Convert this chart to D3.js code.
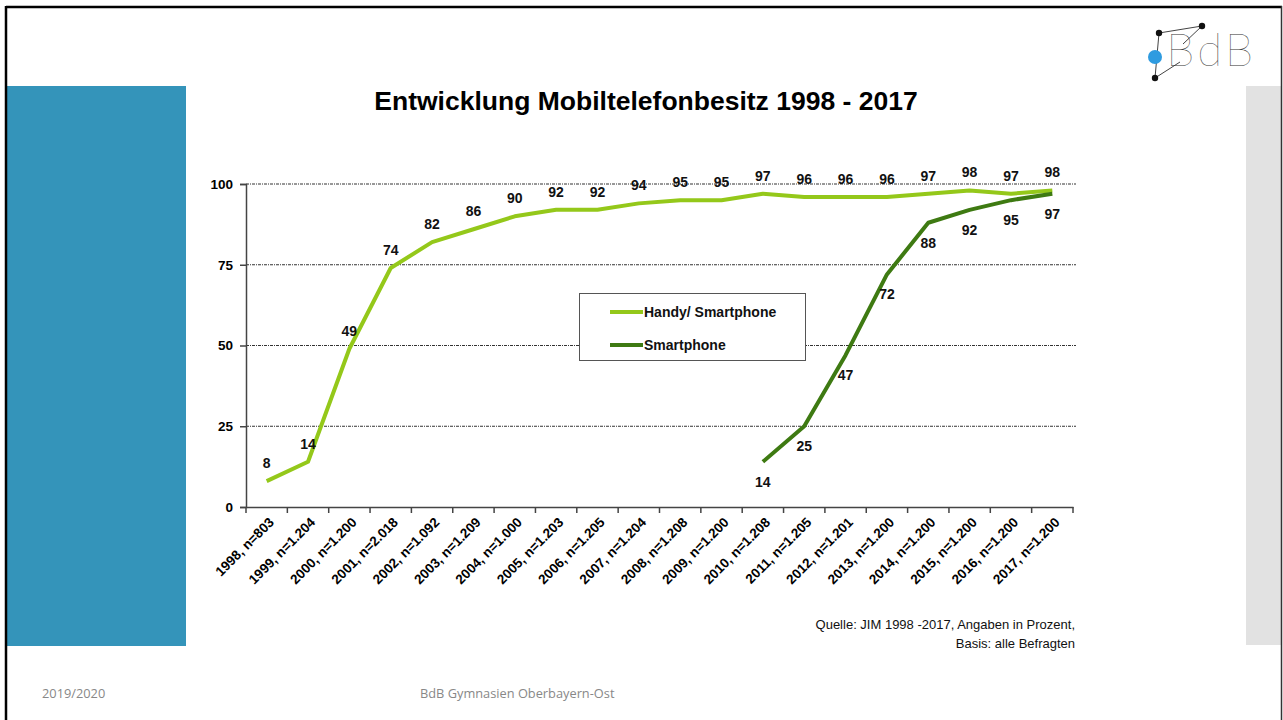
<!DOCTYPE html>
<html>
<head>
<meta charset="utf-8">
<script src="https://cdn.jsdelivr.net/npm/d3@7"></script>
<style>
  html, body { margin: 0; padding: 0; background: #fff; }
  svg { display: block; }
</style>
</head>
<body>
<svg id="chart" width="1283" height="720"></svg>
<script>
const categories = ["1998, n=803","1999, n=1.204","2000, n=1.200","2001, n=2.018","2002, n=1.092","2003, n=1.209","2004, n=1.000","2005, n=1.203","2006, n=1.205","2007, n=1.204","2008, n=1.208","2009, n=1.200","2010, n=1.208","2011, n=1.205","2012, n=1.201","2013, n=1.200","2014, n=1.200","2015, n=1.200","2016, n=1.200","2017, n=1.200"];
const handyValues = [8,14,49,74,82,86,90,92,92,94,95,95,97,96,96,96,97,98,97,98];
const smartCategories = ["2010, n=1.208","2011, n=1.205","2012, n=1.201","2013, n=1.200","2014, n=1.200","2015, n=1.200","2016, n=1.200","2017, n=1.200"];
const smartValues = [14,25,47,72,88,92,95,97];
const yTicks = [0,25,50,75,100];
const seriesNames = ["Handy/ Smartphone","Smartphone"];
const titleText = "Entwicklung Mobiltelefonbesitz 1998 - 2017";
const sourceLines = ["Quelle: JIM 1998 -2017, Angaben in Prozent,","Basis: alle Befragten"];
const footerLeft = "2019/2020";
const footerCenter = "BdB Gymnasien Oberbayern-Ost";

const svg = d3.select("#chart");
const W = 1283, H = 720;
const colHandy = "#94C81A", colSmart = "#3E7A12";

// slide frame
svg.append("rect").attr("x",0).attr("y",0).attr("width",W).attr("height",H).attr("fill","#fff");
svg.append("rect").attr("x",7).attr("y",86).attr("width",179).attr("height",560).attr("fill","#3494BA");
svg.append("rect").attr("x",1246).attr("y",86).attr("width",35).attr("height",559).attr("fill","#E2E2E2");
svg.append("line").attr("x1",6).attr("x2",6).attr("y1",6).attr("y2",H).attr("stroke","#000").attr("stroke-width",2.5);
svg.append("line").attr("x1",6).attr("x2",1282).attr("y1",7).attr("y2",7).attr("stroke","#000").attr("stroke-width",2.5);
svg.append("line").attr("x1",1281.5).attr("x2",1281.5).attr("y1",6).attr("y2",H).attr("stroke","#333").attr("stroke-width",1.5);

// logo
const logo = svg.append("g");
const pts = [[1159,33],[1202,26],[1155,78]];
logo.append("path").attr("d","M1159,33 L1202,26 L1183,44 M1159,33 L1155,78 L1180,62").attr("fill","none").attr("stroke","#444").attr("stroke-width",1);
logo.append("circle").attr("cx",1155).attr("cy",57).attr("r",7).attr("fill","#2E9BE0");
pts.forEach(p => logo.append("circle").attr("cx",p[0]).attr("cy",p[1]).attr("r",3.2).attr("fill","#111"));
logo.append("text").attr("x",1166).attr("y",66).attr("font-family","Lato, 'Noto Sans', sans-serif").attr("font-weight",100)
  .attr("font-size",46).attr("fill","#333").attr("letter-spacing",3).text("BdB");

// title
svg.append("text").attr("x",646).attr("y",110).attr("text-anchor","middle")
  .attr("font-family","'Liberation Sans', Arial, sans-serif").attr("font-weight","bold").attr("font-size",26.5)
  .attr("fill","#000").text(titleText);

// scales
const x = d3.scaleBand().domain(categories).range([246,1073]);
const y = d3.scaleLinear().domain([0,100]).range([507,184]);
const cx = c => x(c) + x.bandwidth()/2;

const font = "'Liberation Sans', Arial, sans-serif";

// grid lines
svg.append("g").selectAll("line").data(yTicks.filter(d => d>0)).join("line")
  .attr("x1",246).attr("x2",1076).attr("y1",d=>y(d)).attr("y2",d=>y(d))
  .attr("stroke","#333").attr("stroke-width",1).attr("stroke-dasharray","3,1,1,1");

// y axis
const yAxis = svg.append("g").attr("transform","translate(246,0)")
  .call(d3.axisLeft(y).tickValues(yTicks).tickSize(6).tickPadding(7));
yAxis.select(".domain").attr("stroke","#444").attr("stroke-width",1.5);
yAxis.selectAll(".tick line").attr("stroke","#444").attr("stroke-width",1.5);
yAxis.selectAll(".tick text").attr("font-family",font).attr("font-weight","bold").attr("font-size",13.5).attr("fill","#000");

// x axis
const xAxis = svg.append("g").attr("transform","translate(0,507)")
  .call(d3.axisBottom(x).tickSize(0).tickFormat(d=>d));
xAxis.select(".domain").attr("stroke","#444").attr("stroke-width",1.5);
xAxis.selectAll(".tick text").attr("font-family",font).attr("font-weight","bold").attr("font-size",13.5).attr("fill","#000")
  .attr("text-anchor","end").attr("dx",0).attr("dy",0)
  .attr("transform","translate(6,14) rotate(-45)");
// boundary ticks
const bounds = categories.map(c => x(c)).concat([x(categories[categories.length-1]) + x.bandwidth()]);
svg.append("g").selectAll("line").data(bounds).join("line")
  .attr("x1",d=>d).attr("x2",d=>d).attr("y1",507).attr("y2",513)
  .attr("stroke","#444").attr("stroke-width",1.5);

// lines
const line = d3.line().x(d=>cx(d.c)).y(d=>y(d.v));
const handyData = categories.map((c,i)=>({c, v: handyValues[i]}));
const smartData = smartCategories.map((c,i)=>({c, v: smartValues[i]}));
svg.append("path").datum(handyData).attr("d",line).attr("fill","none").attr("stroke",colHandy)
  .attr("stroke-width",4).attr("stroke-linejoin","round");
svg.append("path").datum(smartData).attr("d",line).attr("fill","none").attr("stroke",colSmart)
  .attr("stroke-width",4).attr("stroke-linejoin","round");

// data labels
svg.append("g").selectAll("text").data(handyData).join("text")
  .attr("x",d=>cx(d.c)).attr("y",d=>y(d.v)-13).attr("text-anchor","middle")
  .attr("font-family",font).attr("font-weight","bold").attr("font-size",14).attr("fill","#111")
  .text(d=>d.v);
svg.append("g").selectAll("text").data(smartData).join("text")
  .attr("x",d=>cx(d.c)).attr("y",d=>y(d.v)+25).attr("text-anchor","middle")
  .attr("font-family",font).attr("font-weight","bold").attr("font-size",14).attr("fill","#111")
  .text(d=>d.v);

// legend
const lg = svg.append("g");
lg.append("rect").attr("x",579.5).attr("y",293.5).attr("width",226).attr("height",67)
  .attr("fill","#fff").attr("stroke","#555").attr("stroke-width",1);
[colHandy,colSmart].forEach((col,i)=>{
  const yy = 312 + i*33;
  lg.append("line").attr("x1",610).attr("x2",643).attr("y1",yy).attr("y2",yy).attr("stroke",col).attr("stroke-width",4);
  lg.append("text").attr("x",644).attr("y",yy+5).attr("font-family",font).attr("font-weight","bold")
    .attr("font-size",14).attr("fill","#111").text(seriesNames[i]);
});

// source
svg.append("g").selectAll("text").data(sourceLines).join("text")
  .attr("x",1075).attr("y",(d,i)=>629+i*19).attr("text-anchor","end")
  .attr("font-family",font).attr("font-size",13).attr("fill","#111").text(d=>d);

// footer
svg.append("text").attr("x",42).attr("y",698).attr("font-family","'Open Sans', sans-serif").attr("font-size",12.8)
  .attr("fill","#888").text(footerLeft);
svg.append("text").attr("x",420).attr("y",698).attr("font-family","'Open Sans', sans-serif").attr("font-size",12.8)
  .attr("fill","#888").text(footerCenter);
</script>
</body>
</html>
